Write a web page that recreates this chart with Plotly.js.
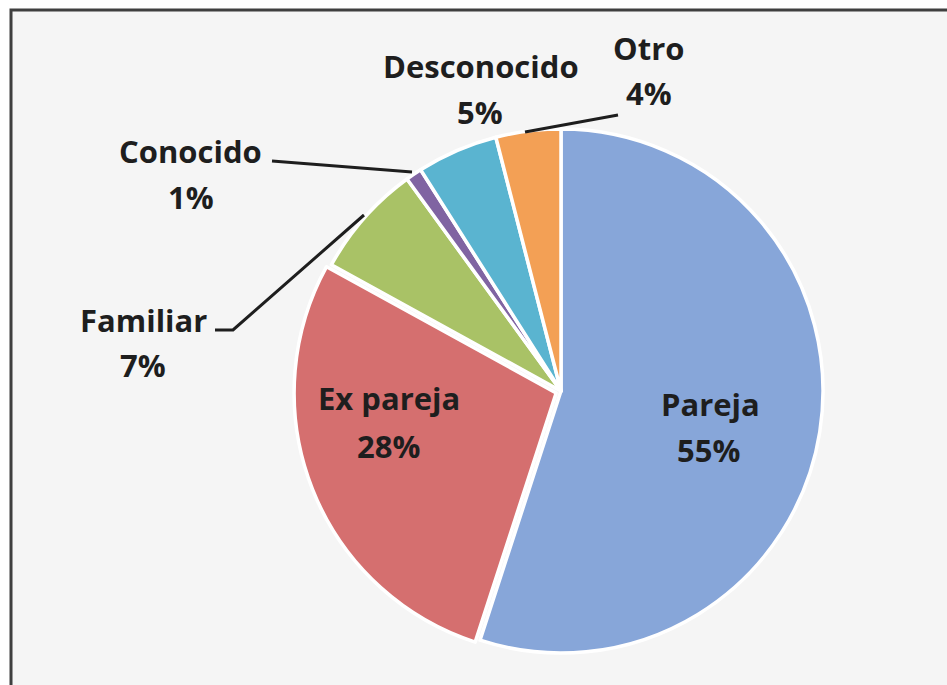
<!DOCTYPE html>
<html>
<head>
<meta charset="utf-8">
<script src="https://cdn.plot.ly/plotly-3.0.1.min.js"></script>
<style>
html,body{margin:0;padding:0;background:#ffffff;}
#chart{width:947px;height:685px;}
</style>
</head>
<body>
<div id="chart"></div>
<script>
// ---- data ----
var categories = ["Pareja", "Ex pareja", "Familiar", "Conocido", "Desconocido", "Otro"];
var values = [55, 28, 7, 1, 5, 4];
var percentLabels = ["55%", "28%", "7%", "1%", "5%", "4%"];

// ---- styling / layout (not data) ----
var colors = ["#87a6d9", "#d56f6f", "#a9c266", "#8064a2", "#5ab4d0", "#f3a055"];
var pulls = [0, 0.02, 0, 0, 0, 0];
var W = 947, H = 685;
function px(x){ return x / W; }
function py(y){ return 1 - y / H; }

// label placement in pixels: [nameX, nameY, pctX, pctY]
var labelPos = [
  [710, 404, 708, 450],
  [389, 398, 388, 446],
  [143, 320, 143, 365],
  [190, 151, 191, 197],
  [481, 66, 480, 112],
  [648, 48, 649, 93]
];
// leader lines (pixel polylines) for outside labels
var leaders = [
  null, null,
  [[215,330],[233,330],[364,215]],
  [[272,161],[412,172]],
  null,
  [[525,132],[618,115]]
];

var cx = 561, cy = 391, r = 262;
var half = r * (1 + Math.max.apply(null, pulls));

var trace = {
  type: "pie",
  labels: categories,
  values: values,
  sort: false,
  direction: "clockwise",
  rotation: 0,
  pull: pulls,
  textinfo: "none",
  hoverinfo: "label+percent",
  marker: {colors: colors, line: {color: "#ffffff", width: 3.5}},
  domain: {x: [px(cx - half), px(cx + half)], y: [py(cy + half), py(cy - half)]},
  showlegend: false
};

var fontFam = "'Open Sans', 'Noto Sans', sans-serif";
var annotations = [];
for (var i = 0; i < categories.length; i++) {
  var p = labelPos[i];
  annotations.push({xref:"paper", yref:"paper", x:px(p[0]), y:py(p[1]), xanchor:"center", yanchor:"middle",
    showarrow:false, text:"<b>"+categories[i]+"</b>", font:{family:fontFam, size:31, color:"#1e1e1e"}});
  annotations.push({xref:"paper", yref:"paper", x:px(p[2]), y:py(p[3]), xanchor:"center", yanchor:"middle",
    showarrow:false, text:"<b>"+percentLabels[i]+"</b>", font:{family:fontFam, size:31, color:"#1e1e1e"}});
}

var shapes = [{
  type:"rect", xref:"paper", yref:"paper", layer:"below",
  x0:px(11), x1:1.02, y0:-0.02, y1:py(10),
  fillcolor:"#f5f5f5", line:{color:"#3f3f3f", width:3}
}];
leaders.forEach(function(pts){
  if (!pts) return;
  var d = "M" + pts.map(function(q){ return px(q[0]) + "," + py(q[1]); }).join(" L");
  shapes.push({type:"path", xref:"paper", yref:"paper", path:d, line:{color:"#1e1e1e", width:3}});
});

var layout = {
  width: W, height: H,
  margin: {l:0, r:0, t:0, b:0},
  paper_bgcolor: "#ffffff",
  plot_bgcolor: "rgba(0,0,0,0)",
  annotations: annotations,
  shapes: shapes,
  showlegend: false
};

Plotly.newPlot("chart", [trace], layout, {displayModeBar:false, staticPlot:true});
</script>
</body>
</html>
